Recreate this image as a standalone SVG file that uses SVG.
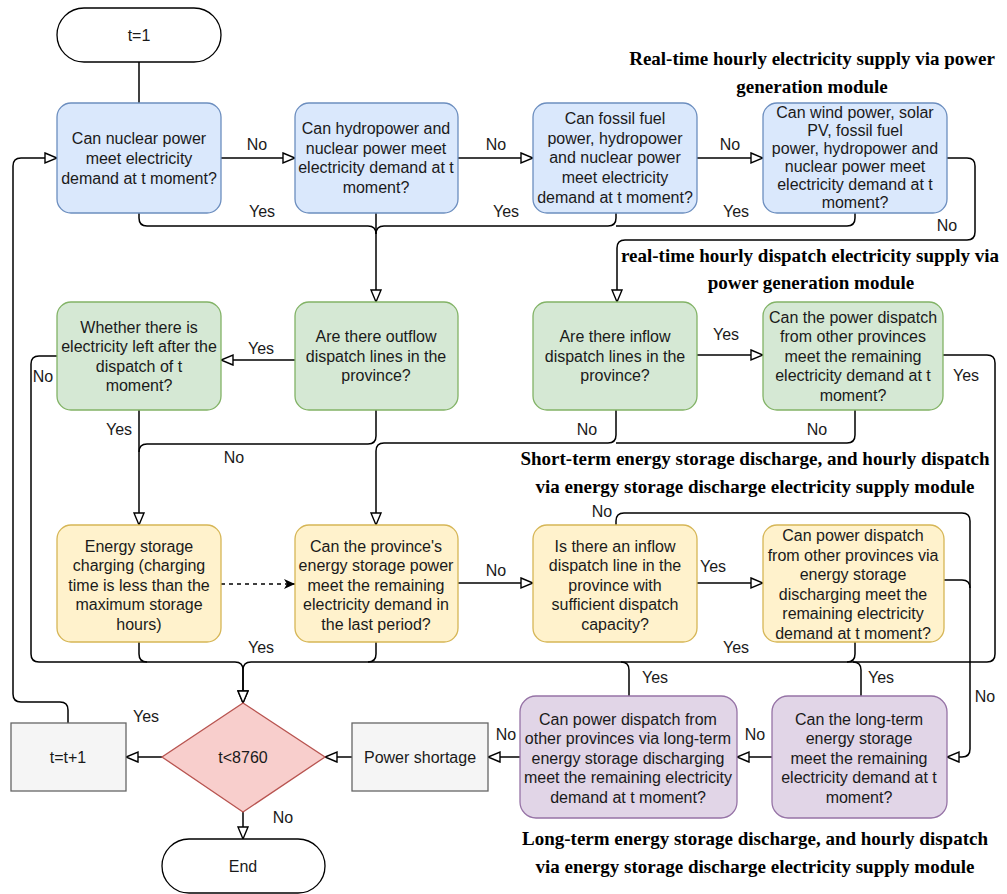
<svg xmlns="http://www.w3.org/2000/svg" width="1007" height="894" viewBox="0 0 1007 894">
<style>
.t{font-family:"Liberation Sans",Arial,sans-serif;font-size:16px;fill:#1a1a1a;text-anchor:middle}
.h{font-family:"Liberation Serif","Times New Roman",serif;font-size:19px;font-weight:bold;fill:#000;text-anchor:middle}
.blue{fill:#dae8fc;stroke:#6c8ebf;stroke-width:1.3}
.green{fill:#d5e8d4;stroke:#82b366;stroke-width:1.3}
.yellow{fill:#fff2cc;stroke:#d6b656;stroke-width:1.3}
.purple{fill:#e1d5e7;stroke:#9673a6;stroke-width:1.3}
.red{fill:#f8cecc;stroke:#b85450;stroke-width:1.3}
.grey{fill:#f5f5f5;stroke:#666666;stroke-width:1.3}
.term{fill:#ffffff;stroke:#000;stroke-width:1.3}
.c{fill:none;stroke:#000;stroke-width:1.5}
.a{marker-end:url(#open)}
.d{stroke-dasharray:4 4;marker-end:url(#fill)}
</style>
<defs>
<marker id="open" markerUnits="userSpaceOnUse" viewBox="-2 -2 16 14" markerWidth="16" markerHeight="14" refX="12" refY="5" orient="auto">
<path d="M0,0 L12,5 L0,10 Z" fill="#fff" stroke="#000" stroke-width="1.4"/>
</marker>
<marker id="fill" markerUnits="userSpaceOnUse" viewBox="0 0 12 10" markerWidth="12" markerHeight="10" refX="11" refY="5" orient="auto">
<path d="M0,0 L11,5 L0,10 L3,5 Z" fill="#000"/>
</marker>
</defs>

<g id="titles">
<text class="h" x="812" y="65">Real-time hourly electricity supply via power</text>
<text class="h" x="812" y="93">generation module</text>
<text class="h" x="810" y="262">real-time hourly dispatch electricity supply via</text>
<text class="h" x="811" y="289">power generation module</text>
<text class="h" x="755" y="465">Short-term energy storage discharge, and hourly dispatch</text>
<text class="h" x="755" y="493">via energy storage discharge electricity supply module</text>
<text class="h" x="755" y="845">Long-term energy storage discharge, and hourly dispatch</text>
<text class="h" x="755" y="873">via energy storage discharge electricity supply module</text>
</g>

<g id="connectors">
<path class="c" d="M139,62 V103"/>
<path class="c a" d="M221,158 H295"/>
<path class="c a" d="M458,158 H533"/>
<path class="c a" d="M697,158 H763"/>
<path class="c" d="M139,213 V218 Q139,226 147,226 H368 Q376,226 376,234"/>
<path class="c a" d="M376,213 V302"/>
<path class="c" d="M616,213 V218 Q616,226 608,226 H384 Q376,226 376,234"/>
<path class="c" d="M855,213 V218 Q855,226 847,226 H616"/>
<path class="c a" d="M947,158 H967 Q975,158 975,166 V232 Q975,240 967,240 H625 Q617,240 617,248 V302"/>
<path class="c a" d="M295,360 H221"/>
<path class="c a" d="M57,356 H39 Q31,356 31,364 V654 Q31,662 39,662 H235 Q243,662 243,670 V703"/>
<path class="c a" d="M139,410 V525"/>
<path class="c" d="M376,410 V436 Q376,444 368,444 H147 Q139,444 139,452"/>
<path class="c a" d="M697,355 H763"/>
<path class="c a" d="M943,355 H987 Q995,355 995,363 V654 Q995,662 987,662 H251 Q243,662 243,670 V703"/>
<path class="c a" d="M616,410 V435 Q616,443 608,443 H384 Q376,443 376,451 V525"/>
<path class="c" d="M855,410 V435 Q855,443 847,443 H616"/>
<path class="c d" d="M221,584 H295"/>
<path class="c a" d="M458,583 H533"/>
<path class="c a" d="M697,583 H763"/>
<path class="c" d="M139,642 V654 Q139,662 147,662"/>
<path class="c" d="M376,642 V654 Q376,662 368,662"/>
<path class="c" d="M855,642 V654 Q855,662 847,662"/>
<path class="c a" d="M616,525 V521 Q616,513 624,513 H962 Q970,513 970,521 V749 Q970,757 962,757 H947"/>
<path class="c" d="M944,580 H962 Q970,580 970,588"/>
<path class="c" d="M629,696 V670 Q629,662 621,662"/>
<path class="c" d="M861,696 V670 Q861,662 853,662"/>
<path class="c a" d="M772,757 H737"/>
<path class="c a" d="M520,757 H488"/>
<path class="c a" d="M352,757 H325"/>
<path class="c a" d="M162,757 H126"/>
<path class="c a" d="M243,812 V839"/>
<path class="c a" d="M68,723 V710 Q68,702 60,702 H21 Q13,702 13,694 V166 Q13,158 21,158 H57"/>
</g>

<g id="labels">
<text class="t" x="257" y="150">No</text>
<text class="t" x="496" y="150">No</text>
<text class="t" x="730" y="150">No</text>
<text class="t" x="262" y="217">Yes</text>
<text class="t" x="506" y="217">Yes</text>
<text class="t" x="736" y="217">Yes</text>
<text class="t" x="947" y="231">No</text>
<text class="t" x="261" y="354">Yes</text>
<text class="t" x="43" y="382">No</text>
<text class="t" x="119" y="435">Yes</text>
<text class="t" x="234" y="463">No</text>
<text class="t" x="726" y="340">Yes</text>
<text class="t" x="966" y="381">Yes</text>
<text class="t" x="587" y="435">No</text>
<text class="t" x="817" y="435">No</text>
<text class="t" x="602" y="517">No</text>
<text class="t" x="496" y="576">No</text>
<text class="t" x="713" y="572">Yes</text>
<text class="t" x="261" y="653">Yes</text>
<text class="t" x="736" y="653">Yes</text>
<text class="t" x="655" y="683">Yes</text>
<text class="t" x="881" y="683">Yes</text>
<text class="t" x="985" y="702">No</text>
<text class="t" x="146" y="722">Yes</text>
<text class="t" x="506" y="740">No</text>
<text class="t" x="755" y="740">No</text>
<text class="t" x="283" y="823">No</text>
</g>

<g id="n-start"><rect class="term" x="57" y="8" width="164" height="54" rx="27"/><text class="t" x="139" y="41">t=1</text></g>

<g id="n-nuclear"><rect class="blue" x="57" y="103" width="164" height="110" rx="14"/>
<text class="t" x="139" y="144">Can nuclear power</text><text class="t" x="139" y="164">meet electricity</text><text class="t" x="139" y="184">demand at t moment?</text></g>

<g id="n-hydro"><rect class="blue" x="295" y="103" width="163" height="110" rx="14"/>
<text class="t" x="376" y="134">Can hydropower and</text><text class="t" x="376" y="154">nuclear power meet</text><text class="t" x="376" y="173">electricity demand at t</text><text class="t" x="376" y="193">moment?</text></g>

<g id="n-fossil"><rect class="blue" x="533" y="103" width="164" height="110" rx="14"/>
<text class="t" x="615" y="124">Can fossil fuel</text><text class="t" x="615" y="144">power, hydropower</text><text class="t" x="615" y="163">and nuclear power</text><text class="t" x="615" y="183">meet electricity</text><text class="t" x="615" y="203">demand at t moment?</text></g>

<g id="n-wind"><rect class="blue" x="763" y="103" width="184" height="110" rx="14"/>
<text class="t" x="855" y="118">Can wind power, solar</text><text class="t" x="855" y="136">PV, fossil fuel</text><text class="t" x="855" y="154">power, hydropower and</text><text class="t" x="855" y="172">nuclear power meet</text><text class="t" x="855" y="190">electricity demand at t</text><text class="t" x="855" y="208">moment?</text></g>

<g id="n-left"><rect class="green" x="57" y="302" width="164" height="108" rx="14"/>
<text class="t" x="139" y="333">Whether there is</text><text class="t" x="139" y="352">electricity left after the</text><text class="t" x="139" y="372">dispatch of t</text><text class="t" x="139" y="391">moment?</text></g>

<g id="n-outflow"><rect class="green" x="295" y="302" width="163" height="108" rx="14"/>
<text class="t" x="376" y="342">Are there outflow</text><text class="t" x="376" y="362">dispatch lines in the</text><text class="t" x="376" y="381">province?</text></g>

<g id="n-inflow"><rect class="green" x="533" y="302" width="164" height="108" rx="14"/>
<text class="t" x="615" y="342">Are there inflow</text><text class="t" x="615" y="362">dispatch lines in the</text><text class="t" x="615" y="381">province?</text></g>

<g id="n-dispatch"><rect class="green" x="763" y="302" width="180" height="108" rx="14"/>
<text class="t" x="853" y="323">Can the power dispatch</text><text class="t" x="853" y="342">from other provinces</text><text class="t" x="853" y="362">meet the remaining</text><text class="t" x="853" y="381">electricity demand at t</text><text class="t" x="853" y="401">moment?</text></g>

<g id="n-charge"><rect class="yellow" x="57" y="525" width="164" height="117" rx="14"/>
<text class="t" x="139" y="552">Energy storage</text><text class="t" x="139" y="571">charging (charging</text><text class="t" x="139" y="591">time is less than the</text><text class="t" x="139" y="610">maximum storage</text><text class="t" x="139" y="630">hours)</text></g>

<g id="n-storage"><rect class="yellow" x="295" y="525" width="163" height="117" rx="14"/>
<text class="t" x="376" y="552">Can the province's</text><text class="t" x="376" y="571">energy storage power</text><text class="t" x="376" y="591">meet the remaining</text><text class="t" x="376" y="610">electricity demand in</text><text class="t" x="376" y="630">the last period?</text></g>

<g id="n-inline"><rect class="yellow" x="533" y="525" width="164" height="117" rx="14"/>
<text class="t" x="615" y="552">Is there an inflow</text><text class="t" x="615" y="571">dispatch line in the</text><text class="t" x="615" y="591">province with</text><text class="t" x="615" y="610">sufficient dispatch</text><text class="t" x="615" y="630">capacity?</text></g>

<g id="n-esdispatch"><rect class="yellow" x="763" y="525" width="181" height="117" rx="14"/>
<text class="t" x="853" y="541">Can power dispatch</text><text class="t" x="853" y="561">from other provinces via</text><text class="t" x="853" y="580">energy storage</text><text class="t" x="853" y="600">discharging meet the</text><text class="t" x="853" y="619">remaining electricity</text><text class="t" x="853" y="639">demand at t moment?</text></g>

<g id="n-ltdispatch"><rect class="purple" x="520" y="696" width="217" height="122" rx="16"/>
<text class="t" x="628" y="725">Can power dispatch from</text><text class="t" x="628" y="744">other provinces via long-term</text><text class="t" x="628" y="764">energy storage discharging</text><text class="t" x="628" y="783">meet the remaining electricity</text><text class="t" x="628" y="803">demand at t moment?</text></g>

<g id="n-ltstorage"><rect class="purple" x="772" y="696" width="175" height="122" rx="16"/>
<text class="t" x="859" y="725">Can the long-term</text><text class="t" x="859" y="744">energy storage</text><text class="t" x="859" y="764">meet the remaining</text><text class="t" x="859" y="783">electricity demand at t</text><text class="t" x="859" y="803">moment?</text></g>

<g id="n-shortage"><rect class="grey" x="352" y="723" width="136" height="68"/><text class="t" x="420" y="763">Power shortage</text></g>

<g id="n-check"><polygon class="red" points="243,703 325,757 243,812 162,757"/><text class="t" x="243" y="763">t&lt;8760</text></g>

<g id="n-incr"><rect class="grey" x="11" y="723" width="115" height="68"/><text class="t" x="68" y="763">t=t+1</text></g>

<g id="n-end"><rect class="term" x="162" y="839" width="163" height="54" rx="27"/><text class="t" x="243" y="872">End</text></g>
</svg>
